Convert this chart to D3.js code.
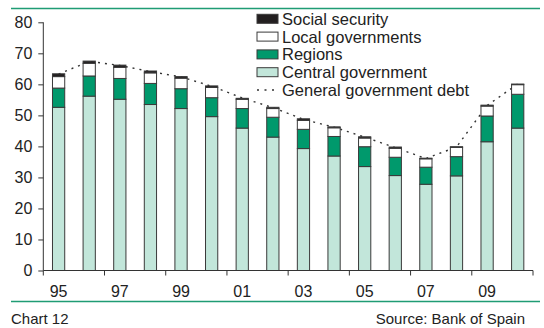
<!DOCTYPE html>
<html>
<head>
<meta charset="utf-8">
<script src="https://cdn.jsdelivr.net/npm/d3@7"></script>
<style>
  html, body { margin: 0; padding: 0; background: #fff; }
  svg { display: block; font-family: "Liberation Sans", Arial, sans-serif; }
</style>
</head>
<body>
<svg id="chart" width="544" height="328"></svg>
<script>
const years = ["1995","1996","1997","1998","1999","2000","2001","2002","2003","2004","2005","2006","2007","2008","2009","2010"];
const xTickLabels = ["95","97","99","01","03","05","07","09"];
const yTicks = [0,10,20,30,40,50,60,70,80];
const central = [52.6,56.2,55.2,53.5,52.2,49.6,45.9,43.0,39.3,36.9,33.5,30.6,27.8,30.5,41.5,45.9];
const regions = [6.2,6.5,6.7,6.8,6.4,6.1,6.3,6.4,6.2,6.3,6.4,5.9,5.5,6.2,8.3,10.9];
const localGov = [3.7,4.1,3.6,3.4,3.4,3.3,3.0,2.8,2.9,2.8,2.8,2.9,2.7,3.0,3.2,3.1];
const socialSec = [0.9,0.7,0.7,0.6,0.5,0.5,0.3,0.4,0.5,0.3,0.4,0.4,0.2,0.2,0.3,0.2];
const generalDebt = [63.3,67.4,66.1,64.1,62.4,59.4,55.6,52.5,48.7,46.2,43.0,39.6,36.1,39.8,53.2,60.1];
const seriesNames = ["Central government","Regions","Local governments","Social security"];
const seriesColors = ["#c2e6da","#00996c","#ffffff","#231f20"];
const legendOrder = ["Social security","Local governments","Regions","Central government"];
const debtLabel = "General government debt";

(function () {
const svg = d3.select("#chart");
const ruleColor = "#1f9c74";
const axisColor = "#333";

const pLeft = 43.3, pRight = 533, pTop = 22.3, pBottom = 270.5;

const x = d3.scaleBand().domain(years).range([pLeft, pRight]).paddingInner(0.6).paddingOuter(0.3);
const y = d3.scaleLinear().domain([0, 80]).range([pBottom, pTop]);

// rules
svg.append("line").attr("x1", 11).attr("x2", 540).attr("y1", 8.5).attr("y2", 8.5)
  .attr("stroke", ruleColor).attr("stroke-width", 1.5);
svg.append("line").attr("x1", 11).attr("x2", 540).attr("y1", 301.5).attr("y2", 301.5)
  .attr("stroke", ruleColor).attr("stroke-width", 1.5);

const table = years.map((yr, i) => ({
  year: yr,
  "Central government": central[i],
  "Regions": regions[i],
  "Local governments": localGov[i],
  "Social security": socialSec[i]
}));
const stacked = d3.stack().keys(seriesNames)(table);

// debt line (behind bars)
const line = d3.line()
  .x((d, i) => x(years[i]) + x.bandwidth() / 2)
  .y(d => y(d));
svg.append("path").datum(generalDebt)
  .attr("d", line).attr("fill", "none")
  .attr("stroke", "#333").attr("stroke-width", 1.4)
  .attr("stroke-dasharray", "2,5");

// bars
const g = svg.append("g");
stacked.forEach((s, si) => {
  g.selectAll(null).data(s).enter().append("rect")
    .attr("x", (d, i) => x(years[i]))
    .attr("width", x.bandwidth())
    .attr("y", d => y(d[1]))
    .attr("height", d => Math.max(0, y(d[0]) - y(d[1])))
    .attr("fill", seriesColors[si])
    .attr("stroke", "#3a3a3a")
    .attr("stroke-width", 1);
});

// y axis
const yAxis = d3.axisLeft(y).tickValues(yTicks).tickSize(5).tickPadding(6).tickFormat(d3.format("d"));
const ya = svg.append("g").attr("transform", `translate(${pLeft},0)`).call(yAxis);
ya.select(".domain").attr("stroke", axisColor).attr("d", `M0,${pTop}V${pBottom}`);
ya.selectAll(".tick line").attr("stroke", axisColor);
ya.selectAll(".tick text").attr("fill", "#222").style("font-size", "16px")
  .style("font-family", "'Liberation Sans', Arial, sans-serif");

// x axis
svg.append("line").attr("x1", pLeft).attr("x2", pRight).attr("y1", pBottom).attr("y2", pBottom)
  .attr("stroke", axisColor).attr("stroke-width", 1);
const step = x.step();
const boundaries = years.filter((d, i) => i % 2 === 0).map(yr => x(yr) - step * x.paddingOuter());
boundaries.push(pRight);
svg.selectAll(null).data(boundaries).enter().append("line")
  .attr("x1", d => d).attr("x2", d => d)
  .attr("y1", pBottom).attr("y2", pBottom + 5)
  .attr("stroke", axisColor);
const labelYears = years.filter((d, i) => i % 2 === 0);
svg.selectAll(null).data(labelYears).enter().append("text")
  .attr("x", d => x(d) + x.bandwidth() / 2)
  .attr("y", 297)
  .attr("text-anchor", "middle")
  .attr("fill", "#222")
  .style("font-size", "16px")
  .text((d, i) => xTickLabels[i]);

// legend
const legX = 257, legY0 = 14.3, legStep = 17.8;
legendOrder.forEach((name, i) => {
  const si = seriesNames.indexOf(name);
  const yy = legY0 + i * legStep;
  svg.append("rect").attr("x", legX).attr("y", yy).attr("width", 21).attr("height", 9)
    .attr("fill", seriesColors[si]).attr("stroke", "#3a3a3a").attr("stroke-width", 1);
  svg.append("text").attr("x", 282).attr("y", yy + 10.5)
    .attr("fill", "#222").style("font-size", "16.5px").text(name);
});
{
  const yy = legY0 + 4 * legStep + 4.5;
  svg.append("line").attr("x1", 257).attr("x2", 278).attr("y1", yy).attr("y2", yy)
    .attr("stroke", "#333").attr("stroke-width", 1.4).attr("stroke-dasharray", "2,5.5");
  svg.append("text").attr("x", 282).attr("y", yy + 6)
    .attr("fill", "#222").style("font-size", "16.5px").text(debtLabel);
}

// footer
svg.append("text").attr("x", 11).attr("y", 324).attr("fill", "#222")
  .style("font-size", "15px").text("Chart 12");
svg.append("text").attr("x", 525).attr("y", 324).attr("text-anchor", "end").attr("fill", "#222")
  .style("font-size", "15px").text("Source: Bank of Spain");
})();
</script>
</body>
</html>
